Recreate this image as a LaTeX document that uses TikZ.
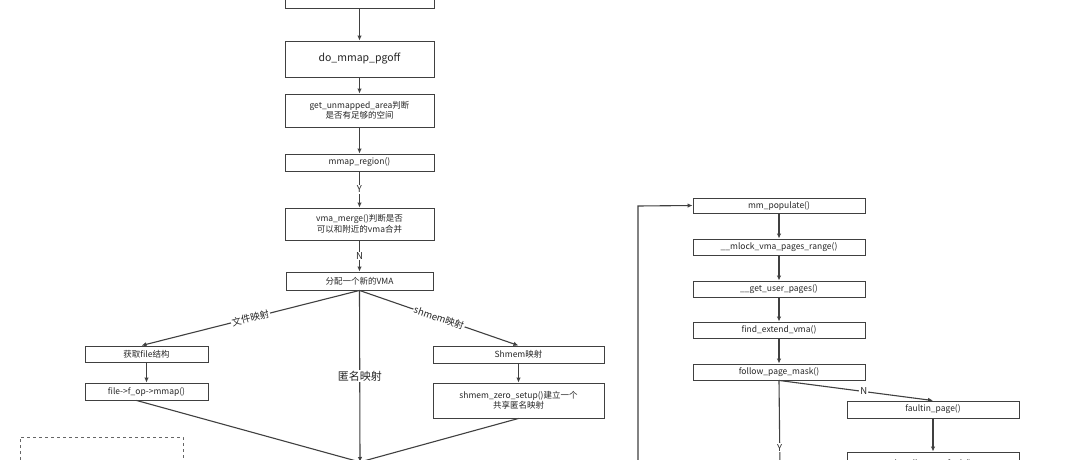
\documentclass[tikz,border=0pt]{standalone}
\usepackage{fontspec}
\setmainfont{Noto Sans CJK SC}
\usetikzlibrary{arrows.meta}
\begin{document}
\begin{tikzpicture}[x=1pt,y=-1pt,
  bx/.style={draw=black!75,line width=0.9pt,inner sep=1pt,font=\fontsize{8.5}{10.5}\selectfont,text=black!85,align=center},
  ar/.style={draw=black!75,line width=1.1pt,-{Latex[length=5pt,width=4.5pt]}},
  ln/.style={draw=black!75,line width=1.1pt},
  lb/.style={font=\fontsize{9.5}{10}\selectfont,text=black!85,fill=white,inner sep=1pt}]
\useasboundingbox[fill=white] (0,0) rectangle (1080,460);
\clip (0,0) rectangle (1080,460);
\def\B(#1,#2,#3,#4,#5)#6{\node[bx,minimum width=#3-#1,minimum height=#4-#2] (#5) at ({(#1+#3)/2},{(#2+#4)/2}) {#6};}
\B(285,-20,434,8,top){}
\B(285,41,434,77,pgoff){\fontsize{10.5}{12}\selectfont do\_mmap\_pgoff}
\B(285,94,434,127,unm){get\_unmapped\_area判断\\是否有足够的空间}
\B(285,154,434,171,reg){mmap\_region()}
\B(285,208,434,240,merge){vma\_merge()判断是否\\可以和附近的vma合并}
\B(286,272,433,290,vma){分配一个新的VMA}
\B(85,346,208,362,file){获取file结构}
\B(85,383,208,400,fop){file->f\_op->mmap()}
\B(433,346,604,363,shm){Shmem映射}
\B(433,383,604,418,zero){shmem\_zero\_setup()建立一个\\共享匿名映射}
\B(693,198,865,213,pop){mm\_populate()}
\B(693,239,865,255,mlock){\_\_mlock\_vma\_pages\_range()}
\B(693,281,865,297,gup){\_\_get\_user\_pages()}
\B(693,322,865,338,fev){find\_extend\_vma()}
\B(693,364,865,380,fpm){follow\_page\_mask()}
\B(847,401,1019,418,fin){faultin\_page()}
\B(847,452,1019,475,hmf){handle\_mm\_fault()}
\draw[draw=black!60,dashed,line width=0.8pt] (20,490) -- (20,437) -- (183,437) -- (183,490);
\coordinate (J) at (360,462);
\coordinate (L) at (638,480);
\coordinate (Y2) at (780,470);
\draw[ar] (top) -- (pgoff);
\draw[ar] (pgoff) -- (unm);
\draw[ar] (unm) -- (reg);
\draw[ar] (reg) -- node[lb]{Y} (merge);
\draw[ar] (merge) -- node[lb]{N} (vma);
\draw[ar] (vma.south) -- node[lb,sloped,pos=0.5]{文件映射} ([xshift=-5]file.north);
\draw[ar] (vma.south) -- node[lb,sloped,pos=0.5]{shmem映射} (shm.north);
\draw[ar] (vma.south) -- node[lb,pos=0.5,font=\fontsize{11}{12}\selectfont]{匿名映射} (J);
\draw[ar] (file) -- (fop);
\draw[ar] (shm) -- (zero);
\draw[ln] ([xshift=-10]fop.south) -- (J);
\draw[ln] (zero.south) -- (J);
\draw[ar] (L) -- (638,206) -- (pop.west);
\draw[ar] (pop) -- (mlock);
\draw[ar] (mlock) -- (gup);
\draw[ar] (gup) -- (fev);
\draw[ar] (fev) -- (fpm);
\draw[ar] (fpm.south) -- node[lb,pos=0.55]{N} (fin.north);
\draw[ln] (fpm.south) -- node[lb,pos=0.75]{Y} (Y2);
\draw[ar] (fin) -- (hmf);
\end{tikzpicture}
\end{document}
